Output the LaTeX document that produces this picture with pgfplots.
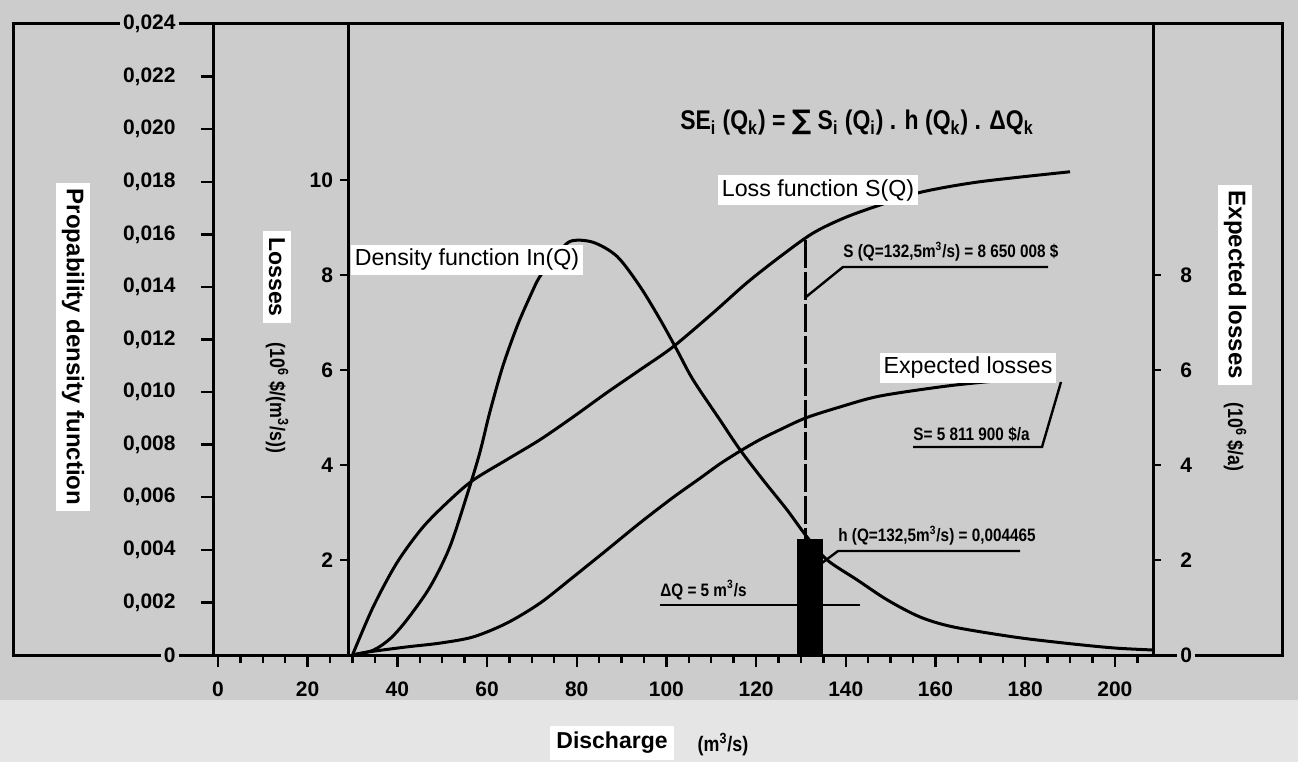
\documentclass[border=0pt]{standalone}
\usepackage{pgfplots}
\pgfplotsset{compat=1.18}
\usepackage{fontspec}
\setmainfont{Liberation Sans}
\newfontfamily\stencil[FakeStretch=0.85]{Liberation Sans}
\newfontfamily\dejavu{DejaVu Sans}
\newcommand{\tickfont}{\fontsize{10.5}{12}\selectfont\bfseries}
\newcommand{\annfont}{\stencil\fontsize{9}{10}\selectfont\bfseries}
\definecolor{bg}{gray}{0.80}
\definecolor{bgl}{gray}{0.90}

\pgfplotstableread{
Q h
30 0
34.6 0.00018
38.4 0.00062
42.1 0.00133
47.3 0.00259
51.7 0.00411
55.7 0.00617
58.4 0.0077
60.6 0.00922
63.5 0.01097
66.7 0.0125
69.6 0.01364
71.8 0.0144
75.1 0.0151
78.5 0.01573
83.6 0.0157
89.0 0.01516
94.1 0.01402
98.6 0.01276
102.3 0.01162
105.9 0.01048
111.9 0.00895
116.4 0.00781
121.5 0.00667
126.9 0.00552
131.3 0.0045
135.8 0.00362
142.5 0.00286
149.2 0.0021
156.5 0.00145
163.9 0.00107
177.3 0.00069
188.4 0.00046
199.6 0.00027
208.5 0.00019
}\density

\pgfplotstableread{
Q S
30 0
34.6 1.01
39.9 1.94
45.7 2.69
51.7 3.26
56.9 3.68
64.4 4.11
71.8 4.53
79.2 5.01
86.7 5.52
94.1 6.00
101.4 6.48
110.4 7.20
117.9 7.83
125.3 8.38
132.7 8.88
140.2 9.22
149.2 9.52
157.2 9.75
169.9 9.96
190.0 10.17
}\loss

\pgfplotstableread{
Q E
30 0
33.2 0.06
42.1 0.17
49.5 0.25
56.9 0.38
64.4 0.67
71.8 1.09
79.2 1.64
86.7 2.21
94.1 2.78
101.4 3.31
107.5 3.72
111.9 4.02
116.4 4.29
120.8 4.53
125.3 4.74
131.1 4.99
138.7 5.22
147.6 5.45
162.5 5.66
173.7 5.77
}\expected

\pgfplotsset{
  common/.style={
    scale only axis, height=315.5pt, anchor=south west,
    axis line style={line width=1.5pt,-},
    tick align=outside,
    major tick length=6pt, minor tick length=4pt,
    every tick/.style={line width=1.2pt,black},
    ticklabel style={font=\tickfont},
    /pgf/number format/assume math mode=true,
    clip=false,
  }
}

\begin{document}
\begin{tikzpicture}
\useasboundingbox (0,0) rectangle (649pt,381pt);
\begin{scope}[x=0.5pt,y=-0.5pt,yshift=381pt]
  \fill[bg] (0,0) rectangle (1298,700);
  \fill[bgl] (0,700) rectangle (1298,762);
  \draw[line width=1.5pt] (13,24) rectangle (1282,655);
\end{scope}

% density axis
\begin{axis}[common,
  at={(106.5pt,53.5pt)}, width=470pt,
  xmin=-1.1, xmax=208.5, ymin=0, ymax=0.024,
  axis x line*=bottom, axis y line*=left,
  xtick={0,20,...,200}, minor xtick={5,10,...,205},
  ytick={0,0.002,0.004,0.006,0.008,0.010,0.012,0.014,0.016,0.018,0.020,0.022,0.024},
  yticklabels={0,{0,002},{0,004},{0,006},{0,008},{0,010},{0,012},{0,014},{0,016},{0,018},{0,020},{0,022},{0,024}},
  yticklabel style={fill=bg, inner sep=1.5pt, xshift=-11pt},
  xticklabel style={yshift=-4pt},
  scaled y ticks=false,
]
\addplot[fill=black, draw=black] coordinates {(129.3,0.00438) (134.7,0.00438)} \closedcycle;
\addplot[smooth, line width=1.5pt] table[x=Q,y=h] {\density};
\end{axis}

% losses axis
\begin{axis}[common,
  at={(174pt,53.5pt)}, width=402.5pt,
  xmin=29, xmax=208.5, ymin=0, ymax=13.28,
  axis y line*=left, axis x line=none,
  ytick={2,4,6,8,10}, major tick length=4pt,
]
\addplot[smooth, line width=1.5pt] table[x=Q,y=S] {\loss};
\addplot[line width=1.5pt, dash pattern=on 14pt off 2pt] coordinates {(131.1,8.74) (131.1,2.42)};
\end{axis}

% expected losses axis
\begin{axis}[common,
  at={(174pt,53.5pt)}, width=402.5pt,
  xmin=29, xmax=208.5, ymin=0, ymax=13.28,
  axis y line*=right, axis x line=none,
  ytick={0,2,4,6,8}, major tick length=4pt,
  yticklabel style={fill=bg, inner sep=1.5pt, xshift=8pt},
]
\addplot[smooth, line width=1.5pt] table[x=Q,y=E] {\expected};
\end{axis}

\begin{scope}[x=0.5pt,y=-0.5pt,yshift=381pt]
  % axis titles
  \node[rotate=-90, fill=white, inner sep=3pt, font=\fontsize{12}{14}\selectfont\bfseries] at (73,347) {Propability density function};
  \node[rotate=-90, fill=white, inner sep=3pt, font=\fontsize{11.5}{14}\selectfont\bfseries] at (277,277) {Losses};
  \node[rotate=-90, font=\stencil\fontsize{10.5}{12}\selectfont\bfseries] at (277,398) {(10\textsuperscript{6} \$/(m\textsuperscript{3}/s))};
  \node[rotate=-90, fill=white, inner sep=3pt, font=\fontsize{12}{14}\selectfont\bfseries] at (1235,285) {Expected losses};
  \node[rotate=-90, font=\stencil\fontsize{10.5}{12}\selectfont\bfseries] at (1235,437) {(10\textsuperscript{6} \$/a)};
  \node[fill=white, inner sep=3pt, font=\fontsize{11.5}{14}\selectfont\bfseries] at (612,743) {Discharge};
  \node[font=\stencil\fontsize{10.5}{12}\selectfont\bfseries] at (723,745) {(m\textsuperscript{3}/s)};
  % curve labels
  \node[fill=white, inner sep=2pt, font=\fontsize{11.6}{14}\selectfont] at (467,260) {Density function In(Q)};
  \node[fill=white, inner sep=2pt, font=\fontsize{11.6}{14}\selectfont] at (818,190) {Loss function S(Q)};
  \node[fill=white, inner sep=2pt, font=\fontsize{11.6}{14}\selectfont] at (968,368) {Expected losses};
  % formula
  \node[font=\stencil\fontsize{13.5}{15}\selectfont\bfseries] at (857,123)
    {SE\textsubscript{i} (Q\textsubscript{k}) = {\dejavu\bfseries ∑} S\textsubscript{i} (Q\textsubscript{i}) . h (Q\textsubscript{k}) . ΔQ\textsubscript{k}};
  % annotations
  \node[font=\annfont, anchor=south west, inner sep=1pt] at (841,264) {S (Q=132,5m\textsuperscript{3}/s) = 8 650 008 \$};
  \draw[line width=1.2pt] (806,297) -- (843,267) -- (1048,267);
  \node[font=\annfont, anchor=south west, inner sep=1pt] at (911,444) {S= 5 811 900 \$/a};
  \draw[line width=1.2pt] (913,447) -- (1042,447) -- (1061,382);
  \node[font=\annfont, anchor=south west, inner sep=1pt] at (836,548) {h (Q=132,5m\textsuperscript{3}/s) = 0,004465};
  \draw[line width=1.2pt] (822,563) -- (838,551) -- (1020,551);
  \node[font=\annfont, anchor=south west, inner sep=1pt] at (658,602) {ΔQ = 5 m\textsuperscript{3}/s};
  \draw[line width=1.2pt] (660,605) -- (860,605);
\end{scope}
\end{tikzpicture}
\end{document}
